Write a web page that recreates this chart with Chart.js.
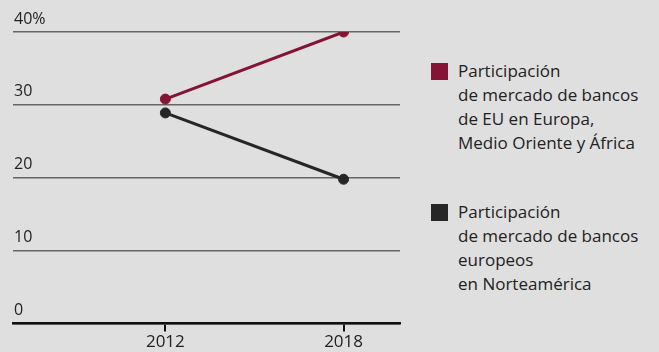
<!DOCTYPE html>
<html>
<head>
<meta charset="utf-8">
<script src="https://cdn.jsdelivr.net/npm/chart.js@4"></script>
<style>
  html, body { margin: 0; padding: 0; background: #dfdfdf; }
  body { width: 659px; height: 352px; position: relative; overflow: hidden; font-family: "Open Sans", "Noto Sans", sans-serif; }
  #wrap { position: absolute; left: 0; top: 0; width: 420px; height: 352px; }
  .leg { position: absolute; left: 431px; color: #222; font-size: 17px; line-height: 24px; }
  .leg .sw { position: absolute; left: 0; top: 4px; width: 17px; height: 17px; }
  .leg .tx { margin-left: 27px; }
</style>
</head>
<body>
<div id="wrap"><canvas id="c" width="420" height="352"></canvas></div>
<div class="leg" id="leg1" style="top:59px"><div class="sw" style="background:#851336"></div><div class="tx"></div></div>
<div class="leg" id="leg2" style="top:200px"><div class="sw" style="background:#262626"></div><div class="tx"></div></div>
<script>
const years = [2012, 2018];
const usBanksEMEA = [30.8, 40];
const euBanksNA = [28.9, 19.8];
const yTicks = [0, 10, 20, 30, 40];
const seriesNames = [
  ["Participación", "de mercado de bancos", "de EU en Europa,", "Medio Oriente y África"],
  ["Participación", "de mercado de bancos", "europeos", "en Norteamérica"]
];
const seriesColors = ["#851336", "#262626"];

document.querySelector('#leg1 .tx').innerHTML = seriesNames[0].join('<br>');
document.querySelector('#leg2 .tx').innerHTML = seriesNames[1].join('<br>');

const mk = (vals) => years.map((y, i) => ({x: y, y: vals[i]}));
const FONT = '"Open Sans", "Noto Sans", sans-serif';

new Chart(document.getElementById('c'), {
  type: 'line',
  data: {
    datasets: [
      { label: seriesNames[0].join(' '), data: mk(usBanksEMEA), borderColor: seriesColors[0], backgroundColor: seriesColors[0], borderWidth: 3, pointRadius: 5, pointBorderWidth: 1, pointHoverRadius: 5 },
      { label: seriesNames[1].join(' '), data: mk(euBanksNA), borderColor: seriesColors[1], backgroundColor: seriesColors[1], borderWidth: 3, pointRadius: 5, pointBorderWidth: 1, pointHoverRadius: 5 }
    ]
  },
  options: {
    responsive: false,
    devicePixelRatio: 1,
    animation: false,
    layout: { padding: { left: 11, right: 20, top: 32, bottom: 0 } },
    plugins: { legend: { display: false }, tooltip: { enabled: false } },
    scales: {
      x: {
        type: 'linear',
        min: 2006.87,
        max: 2019.9,
        afterBuildTicks: (s) => { s.ticks = years.map(v => ({value: v})); },
        ticks: { color: '#222', font: { family: FONT, size: 17 }, padding: 0, callback: (v) => String(v) },
        grid: { drawOnChartArea: false, drawTicks: true, tickLength: 8, color: '#111', lineWidth: 2 },
        border: { display: true, color: '#111', width: 2.5 }
      },
      y: {
        min: 0,
        max: 40,
        afterBuildTicks: (s) => { s.ticks = yTicks.map(v => ({value: v})); },
        ticks: {
          mirror: true, padding: 1, labelOffset: -13, color: '#222',
          font: { family: FONT, size: 16 },
          callback: (v) => v === 40 ? '40%' : String(v)
        },
        grid: { drawTicks: false, color: '#666', lineWidth: 1.6 },
        border: { display: false }
      }
    }
  }
});
</script>
</body>
</html>
